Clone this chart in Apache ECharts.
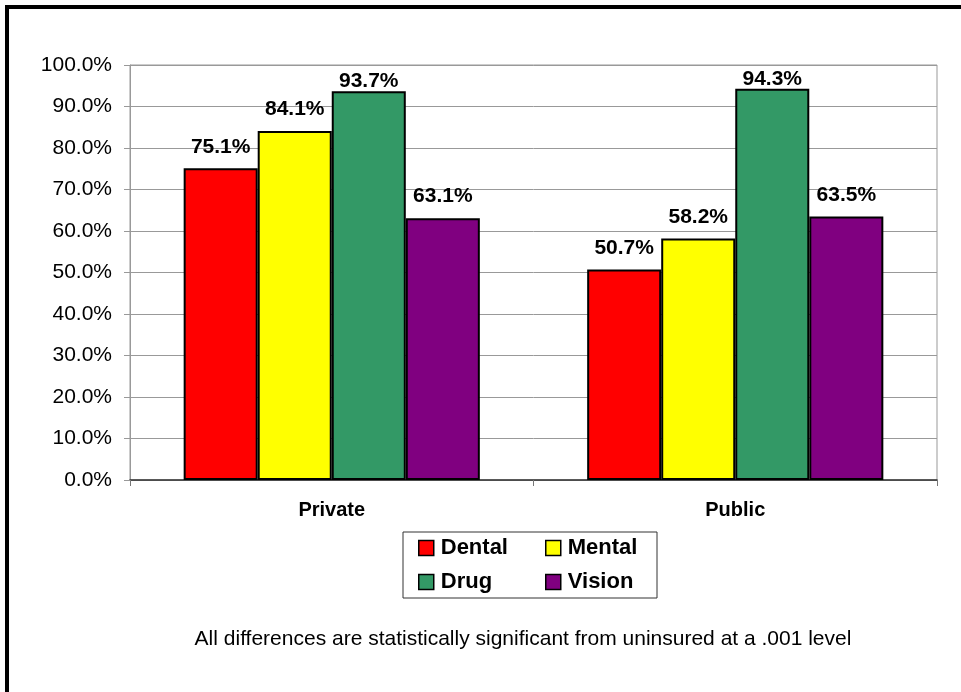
<!DOCTYPE html>
<html>
<head>
<meta charset="utf-8">
<script src="https://cdn.jsdelivr.net/npm/echarts@6/dist/echarts.min.js"></script>
<style>
  html, body { margin: 0; padding: 0; background: #fff; }
  #chart { width: 961px; height: 692px; }
</style>
</head>
<body>
<div id="chart"></div>
<script>
 // data
 var categories = ['Private', 'Public'];
 var dental = [75.1, 50.7];
 var mental = [84.1, 58.2];
 var drug = [93.7, 94.3];
 var vision = [63.1, 63.5];
 var yTicks = [0, 10, 20, 30, 40, 50, 60, 70, 80, 90, 100];
 var footnote = 'All differences are statistically significant from uninsured at a .001 level';

 var myChart = echarts.init(document.getElementById('chart'));
 var fam = 'Arial, "Liberation Sans", sans-serif';

 // tall bars get their labels squeezed down against the bar, as in the original
 function barSeries(name, data, color, labelDist)
 {
   return {
     name: name,
     type: 'bar',
     data: data,
     barGap: '0%',
     barCategoryGap: '26.6%',
     itemStyle: { color: color, borderColor: '#000', borderWidth: 2 },
     label: {
       show: true,
       position: 'top',
       distance: labelDist,
       formatter: function (p) { return p.value.toFixed(1) + '%'; },
       color: '#000',
       fontFamily: fam,
       fontWeight: 'bold',
       fontSize: 21
     }
   };
 }

 var legendText = {
   color: '#000',
   fontFamily: fam,
   fontWeight: 'bold',
   fontSize: 22,
   lineHeight: 22,
   padding: [0, 0, 0, 2]
 };

 var option = {
   animation: false,
   backgroundColor: '#fff',
   grid: { left: 130, top: 65, right: 24, bottom: 212, show: true, borderColor: '#999', borderWidth: 1 },
   xAxis: {
     type: 'category',
     data: categories,
     axisLine: { lineStyle: { color: '#333', width: 1.5 } },
     axisTick: { show: true, length: 6, lineStyle: { color: '#777' } },
     axisLabel: {
       margin: 20,
       color: '#000',
       fontFamily: fam,
       fontWeight: 'bold',
       fontSize: 20
     }
   },
   yAxis: {
     type: 'value',
     min: yTicks[0],
     max: yTicks[yTicks.length - 1],
     interval: 10,
     axisLine: { show: true, lineStyle: { color: '#999' } },
     axisTick: { show: true, length: 6, lineStyle: { color: '#999' } },
     splitLine: { lineStyle: { color: '#999' } },
     axisLabel: {
       margin: 18,
       color: '#000',
       fontFamily: fam,
       fontSize: 21,
       formatter: function (v) { return v.toFixed(1) + '%'; }
     }
   },
   legend: [
     {
       data: ['Dental', 'Drug'],
       orient: 'vertical',
       left: 418, top: 537,
       padding: 0,
       itemWidth: 15, itemHeight: 15, itemGap: 12,
       icon: 'rect',
       itemStyle: { borderColor: '#000', borderWidth: 1.5 },
       textStyle: legendText
     },
     {
       data: ['Mental', 'Vision'],
       orient: 'vertical',
       left: 545, top: 537,
       padding: 0,
       itemWidth: 15, itemHeight: 15, itemGap: 12,
       icon: 'rect',
       itemStyle: { borderColor: '#000', borderWidth: 1.5 },
       textStyle: legendText
     }
   ],
   graphic: [
     { type: 'rect', shape: { x: 403, y: 532, width: 254, height: 66 }, style: { fill: null, stroke: '#333', lineWidth: 1 }, z: -1 },
     { type: 'line', shape: { x1: 7, y1: 7, x2: 961, y2: 7 }, style: { stroke: '#000', lineWidth: 4 } },
     { type: 'line', shape: { x1: 7, y1: 5, x2: 7, y2: 692 }, style: { stroke: '#000', lineWidth: 4 } },
     {
       type: 'text', x: 523, y: 629,
       style: {
         text: footnote,
         fill: '#000',
         align: 'center',
         font: '21px Arial, "Liberation Sans", sans-serif'
       }
     }
   ],
   series: [
     barSeries('Dental', dental, '#FF0000', 11),
     barSeries('Mental', mental, '#FFFF00', 11),
     barSeries('Drug', drug, '#339966', -1),
     barSeries('Vision', vision, '#800080', 11)
   ]
 };
 myChart.setOption(option);
</script>
</body>
</html>
